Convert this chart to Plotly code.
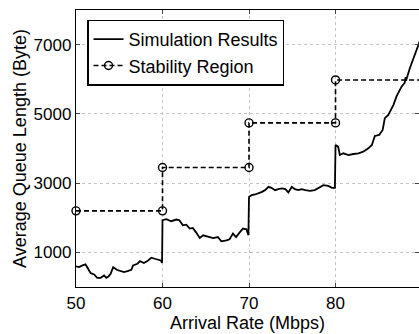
import plotly.graph_objects as go

sim_x = [50.0, 50.35, 50.75, 51.1, 51.4, 51.7, 52.1, 52.45, 52.85, 53.25, 53.5, 53.75, 54.0, 54.3,
         54.7, 55.1, 55.55, 55.95, 56.4, 56.6, 57.1, 57.4, 57.85, 58.25, 58.7, 59.1, 59.5, 59.8, 59.95,
         60.0, 60.45, 61.0, 61.6, 61.95, 62.35, 62.75, 63.15, 63.5, 63.9, 64.3, 64.7, 65.25, 65.85,
         66.4, 66.8, 67.4, 67.75, 68.15, 68.5, 68.9, 69.3, 69.7, 69.93,
         70.0, 70.3, 70.7, 71.1, 71.5, 71.85, 72.25, 72.6, 73.0, 73.4, 73.8, 74.2, 74.55, 74.95,
         75.3, 75.7, 76.1, 76.5, 77.05, 77.6, 78.0, 78.6, 79.15, 79.6, 79.93,
         80.0, 80.3, 80.5, 80.9, 81.5, 82.05, 82.65, 83.2, 83.8, 84.2, 84.55, 85.05, 85.45, 85.7,
         86.1, 86.7, 87.05, 87.65, 88.0, 88.1, 88.15, 88.6, 89.2, 89.6, 90.0]
sim_y = [594, 575, 623, 652, 527, 400, 362, 266, 266, 333, 266, 304, 382, 575,
         498, 458, 430, 458, 498, 623, 672, 748, 691, 748, 846, 816, 787, 768, 700,
         1928, 1957, 1900, 1948, 1928, 1783, 1802, 1687, 1705, 1571, 1415, 1493, 1464, 1415,
         1444, 1319, 1348, 1377, 1542, 1444, 1571, 1687, 1667, 1493,
         2603, 2652, 2672, 2700, 2748, 2797, 2893, 2864, 2797, 2826, 2845, 2826, 2730, 2893,
         2826, 2797, 2826, 2797, 2777, 2797, 2864, 2942, 2922, 2864, 2864,
         4102, 4054, 3812, 3861, 3812, 3841, 3861, 3909, 4006, 4102, 4363, 4392, 4537, 4876,
         4972, 5262, 5503, 5793, 5900, 6060, 5960, 6325, 6711, 7001, 7300]

stab_x = [50, 60, 60, 70, 70, 80, 80, 90]
stab_y = [2200, 2200, 3450, 3450, 4740, 4740, 5980, 5980]

x_ticks = [50, 60, 70, 80]
y_ticks = [1000, 3000, 5000, 7000]

font = "Liberation Sans, Arial, sans-serif"

fig = go.Figure()
fig.add_trace(go.Scatter(x=sim_x, y=sim_y, mode="lines", name="Simulation Results",
                         line=dict(color="black", width=1.8)))
fig.add_trace(go.Scatter(x=stab_x, y=stab_y, mode="lines+markers", name="Stability Region",
                         line=dict(color="black", width=1.6, dash="5px,3px"),
                         marker=dict(symbol="circle-open", size=8, color="black",
                                     line=dict(width=1.4, color="black")),
                         cliponaxis=False))

fig.update_layout(
    width=419, height=334,
    margin=dict(l=76, r=0, t=10, b=47),
    paper_bgcolor="white", plot_bgcolor="white",
    font=dict(family=font, size=17, color="black"),
    showlegend=True,
    legend=dict(x=0.033, y=0.965, xanchor="left", yanchor="top",
                bgcolor="white", bordercolor="black", borderwidth=1.2,
                font=dict(size=18), itemwidth=30, tracegroupgap=0),
    xaxis=dict(range=[50, 89.65], tickvals=x_ticks, ticks="inside", ticklen=4,
               showline=True, linecolor="black", linewidth=1.3, mirror="ticks",
               showgrid=True, gridcolor="#c4c4c4", griddash="dot", gridwidth=1,
               zeroline=False, tickfont=dict(size=17),
               title=dict(text="Arrival Rate (Mbps)", font=dict(size=18), standoff=0)),
    yaxis=dict(range=[0, 8000], tickvals=y_ticks, ticks="inside", ticklen=4,
               showline=True, linecolor="black", linewidth=1.3, mirror="ticks",
               showgrid=True, gridcolor="#c4c4c4", griddash="dot", gridwidth=1,
               zeroline=False, tickfont=dict(size=17),
               title=dict(text="Average Queue Length (Byte)", font=dict(size=18), standoff=2)),
)

fig.write_html("out.html")
